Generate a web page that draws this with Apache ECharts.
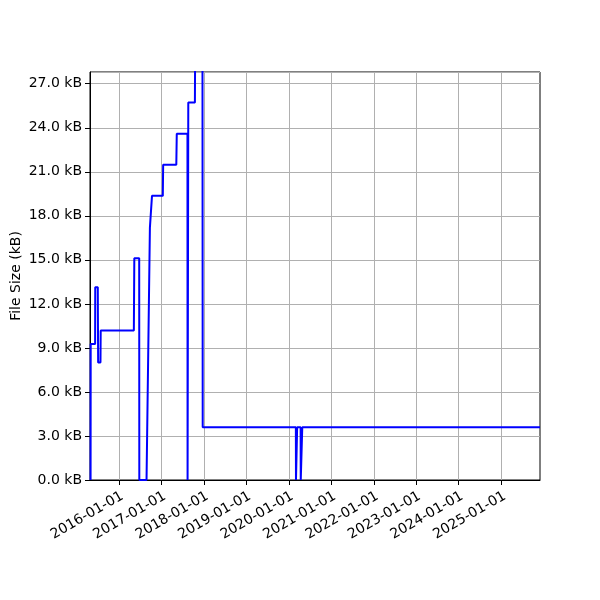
<!DOCTYPE html>
<html>
<head>
<meta charset="utf-8">
<script src="https://cdn.jsdelivr.net/npm/echarts@6/dist/echarts.min.js"></script>
<style>
  html, body { margin: 0; padding: 0; background: #fff; }
  #chart { width: 600px; height: 600px; }
</style>
</head>
<body>
<div id="chart"></div>
<script>
// commit dates and file size (kB) at each one
const commitDates = [
  '2015-05-03', '2015-05-04', '2015-06-11', '2015-06-12', '2015-07-04', '2015-07-05',
  '2015-07-06', '2015-07-07', '2015-07-27', '2015-07-29', '2016-05-09', '2016-05-13',
  '2016-06-24', '2016-06-25', '2016-08-26', '2016-09-24', '2016-10-10', '2016-10-12',
  '2017-01-13', '2017-01-16', '2017-05-09', '2017-05-13', '2017-08-13', '2017-08-14',
  '2017-08-19', '2017-08-20', '2017-10-16', '2017-10-18', '2017-12-20', '2017-12-22',
  '2020-03-02', '2020-03-03', '2020-03-12', '2020-03-13', '2020-04-12', '2020-04-13',
  '2020-04-25', '2020-04-26', '2025-11-30'
]
const fileSizes = [
  0, 9.27, 9.27, 13.14, 13.14, 11.1,
  11.1, 8.0, 8.0, 10.18, 10.18, 15.11,
  15.11, 0, 0, 17.2, 17.2, 19.36,
  19.36, 21.48, 21.48, 23.59, 23.59, 0,
  0, 25.73, 25.73, 29.5, 29.5, 3.6,
  3.6, 0, 0, 3.6, 3.6, 0,
  0, 3.6, 3.6
]
const yearTicks = ['2016-01-01', '2017-01-01', '2018-01-01', '2019-01-01', '2020-01-01',
  '2021-01-01', '2022-01-01', '2023-01-01', '2024-01-01', '2025-01-01']

const myChart = echarts.init(document.getElementById('chart'))
const toMs = d => +new Date(d + 'T00:00:00Z')
const tickValues = yearTicks.map(toMs)
const seriesData = commitDates.map((d, i) => [toMs(d), fileSizes[i]])
const pad = n => (n < 10 ? '0' : '') + n

const option = {
  animation: false,
  textStyle: { fontFamily: 'DejaVu Sans' },
  grid: {
    left: 90,
    right: 60,
    top: 72,
    bottom: 120,
    outerBoundsMode: 'none',
    containLabel: false,
    show: true,
    borderColor: '#000',
    borderWidth: 1
  },
  xAxis: {
    type: 'value',
    min: toMs('2015-04-28'),
    max: toMs('2025-11-30'),
    axisLine: { lineStyle: { color: '#000' } },
    axisTick: { show: true, length: 5, lineStyle: { color: '#000' }, customValues: tickValues },
    axisLabel: {
      customValues: tickValues,
      rotate: 30,
      fontSize: 14,
      color: '#000',
      margin: 9,
      align: 'right',
      verticalAlign: 'top',
      formatter: function (v) {
        const d = new Date(v)
        return d.getUTCFullYear() + '-' + pad(d.getUTCMonth() + 1) + '-' + pad(d.getUTCDate())
      }
    },
    splitLine: { show: true, lineStyle: { color: '#b0b0b0', width: 1 } }
  },
  yAxis: {
    type: 'value',
    min: 0,
    max: 27.8,
    interval: 3,
    name: 'File Size (kB)',
    nameLocation: 'middle',
    nameGap: 67,
    nameMoveOverlap: false,
    nameTextStyle: { fontSize: 14, color: '#000' },
    axisLine: { show: true, lineStyle: { color: '#000' } },
    axisTick: { show: true, length: 5, lineStyle: { color: '#000' } },
    axisLabel: {
      fontSize: 14,
      color: '#000',
      margin: 8,
      showMaxLabel: false,
      formatter: v => v.toFixed(1) + ' kB'
    },
    splitLine: { show: true, lineStyle: { color: '#b0b0b0', width: 1 } }
  },
  series: [
    {
      type: 'line',
      data: seriesData,
      showSymbol: false,
      clip: true,
      lineStyle: { color: '#0000ff', width: 2 }
    }
  ]
}
option && myChart.setOption(option)
</script>
</body>
</html>
